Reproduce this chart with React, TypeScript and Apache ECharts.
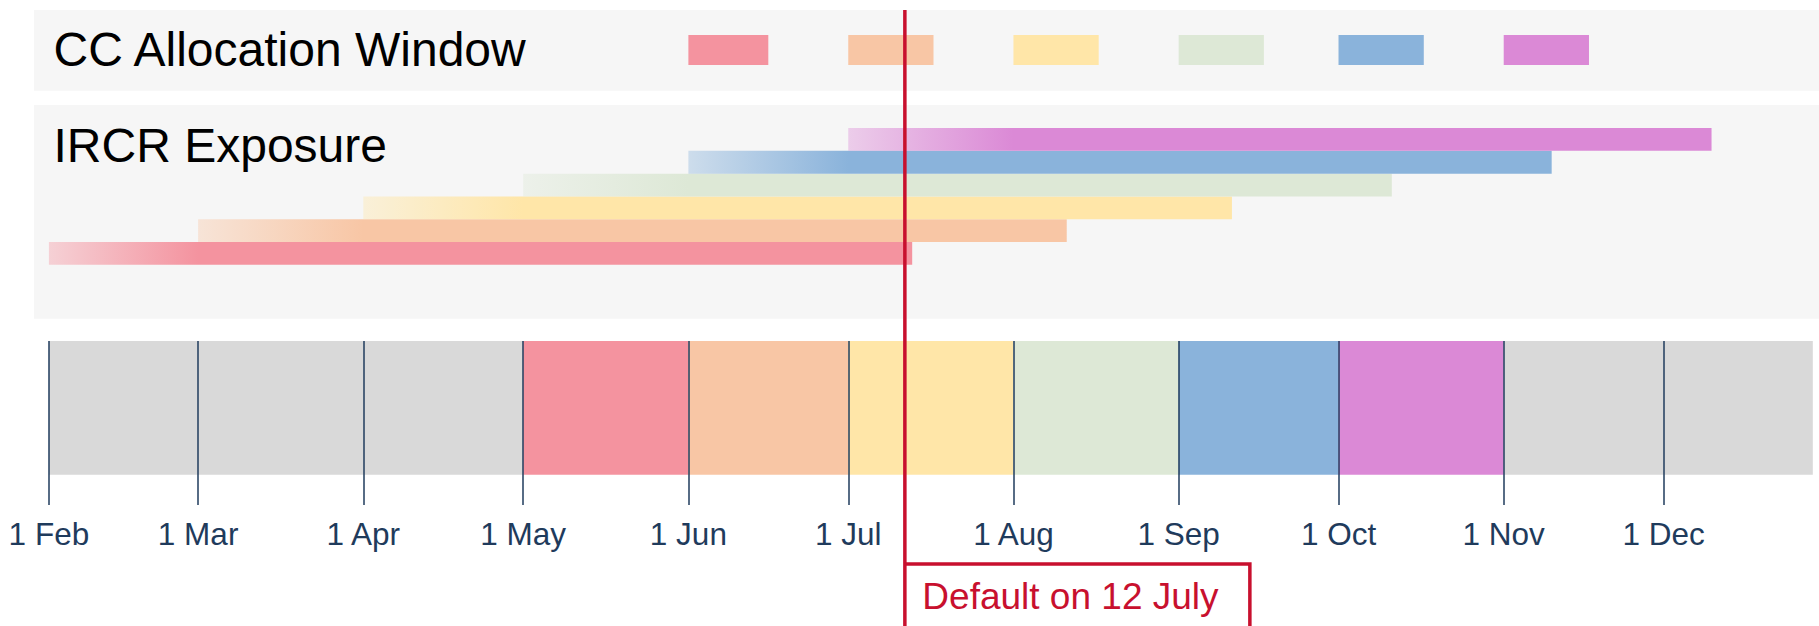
import React, { useEffect, useRef } from 'react';
import * as echarts from 'echarts';

// ---- data (day-of-year, 1 Jan = 0) ----
const tickDays = [31, 59, 90, 120, 151, 181, 212, 243, 273, 304, 334];
const tickLabels = ['1 Feb', '1 Mar', '1 Apr', '1 May', '1 Jun', '1 Jul', '1 Aug', '1 Sep', '1 Oct', '1 Nov', '1 Dec'];
const periodColors = ['#F4939F', '#F8C6A5', '#FFE6A8', '#DDE8D6', '#8AB3DB', '#DB89D6'];
const neutralColor = '#D9D9D9';

const timelineStart = [31, 120, 151, 181, 212, 243, 273, 304];
const timelineEnd = [120, 151, 181, 212, 243, 273, 304, 362];
const timelinePeriod = [-1, 0, 1, 2, 3, 4, 5, -1];

const windowStart = [151, 181, 212, 243, 273, 304];
const windowEnd = [166, 197, 228, 259, 289, 320];

const exposureRows = ['P1', 'P2', 'P3', 'P4', 'P5', 'P6'];
const exposureStart = [31, 59, 90, 120, 151, 181];
const exposureFull = [59, 90, 120, 151, 181, 212];
const exposureEnd = [193, 222, 253, 283, 313, 343];

const defaultDay = 192;
const defaultLabel = 'Default on 12 July';
const panelTitles = ['CC Allocation Window', 'IRCR Exposure'];

const axisMin = 31;
const axisMax = 362;

const FONT = '"Liberation Sans", Arial, sans-serif';
const NAVY = '#1F3B5C';
const RED = '#C8102E';

function fade(hex: string, a: number) {
  const r = parseInt(hex.slice(1, 3), 16);
  const g = parseInt(hex.slice(3, 5), 16);
  const b = parseInt(hex.slice(5, 7), 16);
  return `rgba(${r},${g},${b},${a})`;
}

export default function App() {
  const ref = useRef<HTMLDivElement>(null);

  useEffect(() => {
    if (!ref.current) return;
    const chart = echarts.init(ref.current, undefined, { renderer: 'svg' });

    const gridLeft = 48.9;
    const gridRight = 6.2;

    const spanRender = (params: any, api: any) => {
      const cs = params.coordSys;
      const s = api.coord([api.value(0), 0])[0];
      const e = api.coord([api.value(1), 0])[0];
      const p = api.value(2);
      return {
        type: 'rect',
        shape: { x: s, y: cs.y, width: e - s, height: cs.height },
        style: { fill: p >= 0 ? periodColors[p] : neutralColor },
      };
    };

    const option: any = {
      animation: false,
      backgroundColor: '#FFFFFF',
      grid: [
        { left: gridLeft, right: gridRight, top: 35, height: 30 },
        { left: gridLeft, right: gridRight, top: 128.1, height: 136.6 },
        { left: gridLeft, right: gridRight, top: 341, height: 133.7 },
        { left: gridLeft, right: gridRight, top: 341, height: 164 },
      ],
      xAxis: [
        { type: 'value', gridIndex: 0, min: axisMin, max: axisMax, show: false },
        { type: 'value', gridIndex: 1, min: axisMin, max: axisMax, show: false },
        { type: 'value', gridIndex: 2, min: axisMin, max: axisMax, show: false },
        {
          type: 'value',
          gridIndex: 3,
          min: axisMin,
          max: axisMax,
          position: 'bottom',
          z: 5,
          axisLine: { show: false },
          splitLine: { show: false },
          axisTick: {
            show: true,
            inside: true,
            length: 164,
            customValues: tickDays,
            lineStyle: { color: NAVY, width: 1.5 },
          },
          axisLabel: {
            show: true,
            customValues: tickDays,
            formatter: (v: number) => {
              const i = tickDays.indexOf(Math.round(v));
              return i >= 0 ? tickLabels[i] : '';
            },
            fontSize: 31.5,
            lineHeight: 32,
            color: NAVY,
            fontFamily: FONT,
            margin: 13,
          },
        },
      ],
      yAxis: [
        { type: 'value', gridIndex: 0, min: 0, max: 1, show: false },
        { type: 'category', gridIndex: 1, data: exposureRows, show: false },
        { type: 'value', gridIndex: 2, min: 0, max: 1, show: false },
        { type: 'value', gridIndex: 3, min: 0, max: 1, show: false },
      ],
      graphic: [
        { type: 'rect', z: 0, shape: { x: 34, y: 10, width: 1785, height: 80.7 }, style: { fill: '#F6F6F6' } },
        { type: 'rect', z: 0, shape: { x: 34, y: 105, width: 1785, height: 213.7 }, style: { fill: '#F6F6F6' } },
        {
          type: 'text', z: 1, x: 53.5, y: 49.8,
          style: { text: panelTitles[0], font: `48px ${FONT}`, fill: '#000000', textAlign: 'left', textVerticalAlign: 'middle', align: 'left', verticalAlign: 'middle' },
        },
        {
          type: 'text', z: 1, x: 53.5, y: 145.2,
          style: { text: panelTitles[1], font: `48px ${FONT}`, fill: '#000000', textAlign: 'left', textVerticalAlign: 'middle', align: 'left', verticalAlign: 'middle' },
        },
      ],
      series: [
        {
          type: 'custom',
          xAxisIndex: 0,
          yAxisIndex: 0,
          encode: { x: [0, 1] },
          data: windowStart.map((s, i) => [s, windowEnd[i], i]),
          renderItem: spanRender,
        },
        {
          type: 'custom',
          xAxisIndex: 1,
          yAxisIndex: 1,
          encode: { x: [1, 2, 3], y: 0 },
          data: exposureStart.map((s, i) => [i, s, exposureFull[i], exposureEnd[i], i]),
          renderItem: (params: any, api: any) => {
            const row = api.value(0);
            const p0 = api.coord([api.value(1), row]);
            const pf = api.coord([api.value(2), row]);
            const p1 = api.coord([api.value(3), row]);
            const h = api.size([0, 1])[1];
            const w = p1[0] - p0[0];
            const color = periodColors[api.value(4)];
            const f = Math.max(0, Math.min(1, (pf[0] - p0[0]) / w));
            return {
              type: 'rect',
              shape: { x: p0[0], y: p0[1] - h / 2, width: w, height: h },
              style: {
                fill: new echarts.graphic.LinearGradient(0, 0, 1, 0, [
                  { offset: 0, color: fade(color, 0.38) },
                  { offset: f, color },
                  { offset: 1, color },
                ]),
              },
            };
          },
        },
        {
          type: 'custom',
          xAxisIndex: 2,
          yAxisIndex: 2,
          encode: { x: [0, 1] },
          data: timelineStart.map((s, i) => [s, timelineEnd[i], timelinePeriod[i]]),
          renderItem: spanRender,
        },
        {
          type: 'custom',
          xAxisIndex: 2,
          yAxisIndex: 2,
          z: 10,
          clip: false,
          encode: { x: 0 },
          data: [[defaultDay]],
          renderItem: (params: any, api: any) => {
            const x = api.coord([api.value(0), 0])[0] - 2;
            return {
              type: 'group',
              children: [
                {
                  type: 'line',
                  shape: { x1: x, y1: 10, x2: x, y2: 640 },
                  style: { stroke: RED, lineWidth: 3.5, fill: 'none' },
                },
                {
                  type: 'polyline',
                  shape: { points: [[x, 564], [x + 345, 564], [x + 345, 640]] },
                  style: { stroke: RED, lineWidth: 3.5, fill: 'none' },
                },
                {
                  type: 'text',
                  style: {
                    text: defaultLabel,
                    x: x + 17.5,
                    y: 596.4,
                    font: `37px ${FONT}`,
                    fill: RED,
                    textAlign: 'left',
                    textVerticalAlign: 'middle',
                    align: 'left',
                    verticalAlign: 'middle',
                  },
                },
              ],
            };
          },
        },
      ],
    };

    chart.setOption(option);
    return () => chart.dispose();
  }, []);

  return (
    <div
      ref={ref}
      style={{ position: 'fixed', left: 0, top: 0, width: 1819, height: 626 }}
    />
  );
}
